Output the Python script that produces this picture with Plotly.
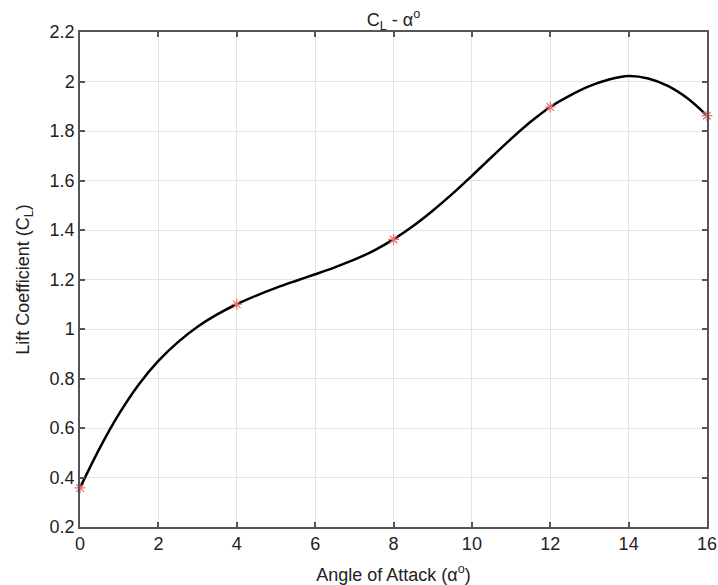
import plotly.graph_objects as go

# Measured data points (red asterisks)
alpha_pts = [0, 4, 8, 12, 16]
cl_pts = [0.358, 1.10, 1.362, 1.897, 1.862]

# Smooth curve values
alpha_curve = [0, 0.5, 1, 1.5, 2, 2.5, 3, 3.5, 4, 4.5, 5, 5.5, 6, 6.5, 7, 7.5, 8,
               8.5, 9, 9.5, 10, 10.5, 11, 11.5, 12, 12.5, 13, 13.5, 14, 14.5, 15, 15.5, 16]
cl_curve = [0.358, 0.518, 0.658, 0.776, 0.871, 0.947, 1.009, 1.059, 1.10,
            1.135, 1.166, 1.194, 1.221, 1.249, 1.280, 1.317, 1.362,
            1.416, 1.478, 1.546, 1.619, 1.694, 1.768, 1.837, 1.897,
            1.943, 1.981, 2.008, 2.022, 2.012, 1.982, 1.932, 1.862]

x_ticks = [0, 2, 4, 6, 8, 10, 12, 14, 16]
y_ticks = [0.2, 0.4, 0.6, 0.8, 1.0, 1.2, 1.4, 1.6, 1.8, 2.0, 2.2]
y_tick_labels = ["0.2", "0.4", "0.6", "0.8", "1", "1.2", "1.4", "1.6", "1.8", "2", "2.2"]

font_family = "Liberation Sans, Arial, sans-serif"
txt_color = "#222222"

fig = go.Figure()
fig.add_trace(go.Scatter(
    x=alpha_curve, y=cl_curve, mode="lines",
    line=dict(color="black", width=2.5, shape="spline", smoothing=1.0),
    hoverinfo="skip", showlegend=False,
))
fig.add_trace(go.Scatter(
    x=alpha_pts, y=cl_pts, mode="markers",
    marker=dict(symbol="asterisk-open", size=9, color="rgb(235,110,110)",
                line=dict(color="rgb(235,110,110)", width=1.2)),
    showlegend=False, cliponaxis=False,
))

axis_common = dict(
    showline=True, linecolor="#555555", linewidth=1.5, mirror="ticks",
    ticks="inside", ticklen=5, tickcolor="#555555", tickwidth=1.5,
    showgrid=True, gridcolor="#e3e3e3", gridwidth=1,
    zeroline=False, ticklabeloverflow="allow",
    tickfont=dict(family=font_family, size=18, color=txt_color),
)

fig.update_layout(
    width=718, height=585,
    margin=dict(l=80, r=11, t=32, b=58),
    paper_bgcolor="white", plot_bgcolor="white",
    title=dict(text="C<sub>L</sub> - α<sup>o</sup>", x=0.5, xref="paper", xanchor="center",
               y=1, yref="paper", yanchor="bottom", pad=dict(b=6),
               font=dict(family=font_family, size=18, color=txt_color)),
    xaxis=dict(range=[0, 16], tickvals=x_ticks, automargin=False,
               title=dict(text="Angle of Attack (α<sup>o</sup>)",
                          font=dict(family=font_family, size=18, color=txt_color)),
               **axis_common),
    yaxis=dict(range=[0.2, 2.2], tickvals=y_ticks, ticktext=y_tick_labels, automargin=False,
               title=dict(text="Lift Coefficient (C<sub>L</sub>)",
                          font=dict(family=font_family, size=18, color=txt_color)),
               **axis_common),
)

fig.write_html("out.html")
